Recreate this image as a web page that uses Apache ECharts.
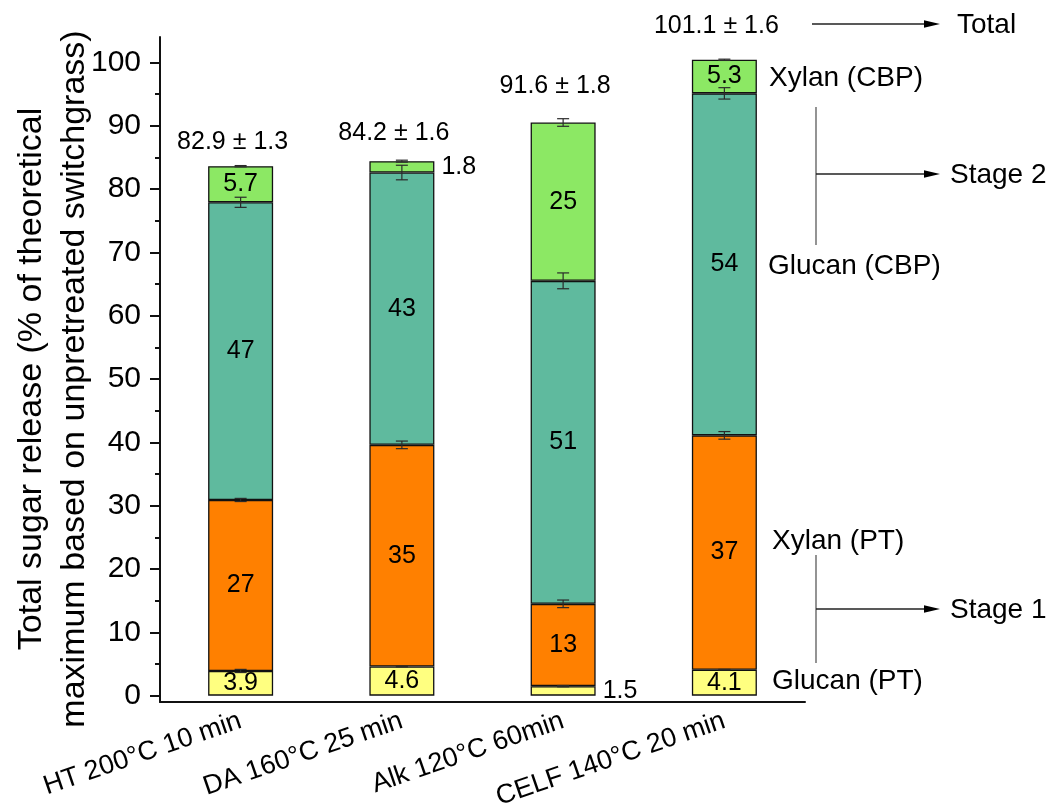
<!DOCTYPE html>
<html>
<head>
<meta charset="utf-8">
<script src="https://cdn.jsdelivr.net/npm/echarts@6/dist/echarts.min.js"></script>
<style>
  html, body { margin: 0; padding: 0; background: #fff; }
  #chart { width: 1051px; height: 803px; }
</style>
</head>
<body>
<div id="chart"></div>
<script>
// Sugar release per pretreatment, in % of theoretical maximum
const categories = ['HT 200°C 10 min', 'DA 160°C 25 min', 'Alk 120°C 60min', 'CELF 140°C 20 min'];
const glucanPT  = [3.9, 4.6, 1.5, 4.1];
const xylanPT   = [27, 35, 13, 37];
const glucanCBP = [47, 43, 51, 54];
const xylanCBP  = [5.7, 1.8, 25, 5.3];

// standard deviations drawn at the top of each segment
const errGlucanPT  = [0.25, 0.05, 0.1, 0.05];
const errXylanPT   = [0.25, 0.6, 0.6, 0.6];
const errGlucanCBP = [0.8, 1.15, 1.25, 0.9];
const errXylanCBP  = [0.1, 0.15, 0.6, 0.1];

// overall totals
const totalMean = [82.9, 84.2, 91.6, 101.1];
const totalSD   = [1.3, 1.6, 1.8, 1.6];

// axis ticks
const yTicks      = [0, 10, 20, 30, 40, 50, 60, 70, 80, 90, 100];
const yMinorTicks = [5, 15, 25, 35, 45, 55, 65, 75, 85, 95];

const FONT = '"Liberation Sans", Arial, Helvetica, sans-serif';
const COLORS = {
  glucanPT: '#FFFF80',
  xylanPT: '#FF8000',
  glucanCBP: '#5FBA9E',
  xylanCBP: '#8CE864'
};

// segments whose value label sits beside the bar instead of inside it
const besideLabel = { xylanCBP: [1], glucanPT: [2] };

const stackOrder = [
  { key: 'glucanPT', name: 'Glucan (PT)', values: glucanPT, err: errGlucanPT },
  { key: 'xylanPT', name: 'Xylan (PT)', values: xylanPT, err: errXylanPT },
  { key: 'glucanCBP', name: 'Glucan (CBP)', values: glucanCBP, err: errGlucanCBP },
  { key: 'xylanCBP', name: 'Xylan (CBP)', values: xylanCBP, err: errXylanCBP }
];

const barSeries = stackOrder.map(s => ({
  name: s.name,
  type: 'bar',
  stack: 'sugar',
  barWidth: 65,
  itemStyle: { color: COLORS[s.key], borderColor: '#111', borderWidth: 1.3 },
  label: {
    show: true,
    position: 'inside',
    color: '#000',
    fontFamily: FONT,
    fontSize: 25,
    formatter: p => String(p.value)
  },
  z: 2,
  data: s.values.map((v, i) => {
    const beside = (besideLabel[s.key] || []).includes(i);
    return beside
      ? { value: v, label: { position: 'right', distance: 7 } }
      : { value: v };
  })
}));

// error bars at the cumulative top of each segment
const errData = [];
categories.forEach((c, i) => {
  let cum = 0;
  stackOrder.forEach(s => {
    cum += s.values[i];
    errData.push([i, cum, cum - s.err[i], cum + s.err[i]]);
  });
});

const errorSeries = {
  type: 'custom',
  name: 'error',
  z: 5,
  silent: true,
  data: errData,
  encode: { x: 0, y: 1 },
  renderItem: (params, api) => {
    const x = api.value(0);
    const lo = api.coord([x, api.value(2)]);
    const hi = api.coord([x, api.value(3)]);
    const half = 6;
    const st = { stroke: '#2a2a2a', lineWidth: 1.2 };
    return {
      type: 'group',
      children: [
        { type: 'line', shape: { x1: lo[0], y1: lo[1], x2: hi[0], y2: hi[1] }, style: st },
        { type: 'line', shape: { x1: lo[0] - half, y1: lo[1], x2: lo[0] + half, y2: lo[1] }, style: st },
        { type: 'line', shape: { x1: hi[0] - half, y1: hi[1], x2: hi[0] + half, y2: hi[1] }, style: st }
      ]
    };
  }
};

// "mean ± sd" written above each stack
const totalSeries = {
  type: 'custom',
  name: 'Total',
  silent: true,
  z: 6,
  data: totalMean.map((v, i) => [i, v, totalSD[i]]),
  encode: { x: 0, y: 1 },
  renderItem: (params, api) => {
    const p = api.coord([api.value(0), api.value(1)]);
    return {
      type: 'text',
      x: p[0] - 8,
      y: p[1] - 29,
      style: {
        text: api.value(1).toFixed(1) + ' ± ' + api.value(2).toFixed(1),
        fill: '#000',
        font: '25px ' + FONT,
        align: 'center',
        verticalAlign: 'middle'
      }
    };
  }
};

// right-hand legend with arrows
function arrow(x1, y, x2) {
  return [
    { type: 'line', shape: { x1: x1, y1: y, x2: x2 - 12, y2: y }, style: { stroke: '#222', lineWidth: 1.4 } },
    { type: 'polygon', shape: { points: [[x2 - 16, y - 3.8], [x2, y], [x2 - 16, y + 3.8]] }, style: { fill: '#000' } }
  ];
}
function note(text, x, y) {
  return { type: 'text', x: x, y: y, style: { text: text, fill: '#000', font: '28px ' + FONT, align: 'left', verticalAlign: 'middle' } };
}
function bracket(x, y1, y2) {
  return { type: 'line', shape: { x1: x, y1: y1, x2: x, y2: y2 }, style: { stroke: '#666', lineWidth: 1.4 } };
}

const graphics = [
  {
    type: 'text',
    x: 53,
    y: 379,
    rotation: Math.PI / 2,
    style: {
      text: 'Total sugar release (% of theoretical\nmaximum based on unpretreated switchgrass)',
      fill: '#000',
      font: '34px ' + FONT,
      lineHeight: 43,
      align: 'center',
      verticalAlign: 'middle'
    }
  },
  ...arrow(812, 24, 940),
  note('Total', 957, 25),
  note('Xylan (CBP)', 769, 78),
  bracket(816, 107, 245),
  ...arrow(816, 174, 940),
  note('Stage 2', 950, 175),
  note('Glucan (CBP)', 768, 266),
  note('Xylan (PT)', 772, 541),
  bracket(816, 555, 663),
  ...arrow(816, 609, 940),
  note('Stage 1', 950, 610),
  note('Glucan (PT)', 772, 681)
];

const axisLineStyle = { color: '#111', width: 2 };

const option = {
  animation: false,
  backgroundColor: '#fff',
  textStyle: { fontFamily: FONT },
  grid: { left: 160, right: 246, top: 37, bottom: 101, containLabel: false, outerBoundsMode: 'none' },
  xAxis: {
    type: 'category',
    data: categories,
    axisLine: { onZero: false, lineStyle: axisLineStyle },
    axisTick: { alignWithLabel: true, length: 10, lineStyle: { color: '#111', width: 2 } },
    axisLabel: {
      rotate: 19,
      fontSize: 27,
      color: '#000',
      fontFamily: FONT,
      margin: 18,
      interval: 0
    },
    splitLine: { show: false }
  },
  yAxis: [
    {
      type: 'value',
      min: -1,
      max: 104,
      position: 'left',
      axisLine: { show: true, lineStyle: axisLineStyle },
      axisTick: { show: true, customValues: yTicks, length: 10, lineStyle: { color: '#111', width: 2 } },
      axisLabel: { customValues: yTicks, fontSize: 30, color: '#000', fontFamily: FONT, margin: 19 },
      splitLine: { show: false }
    },
    {
      type: 'value',
      min: -1,
      max: 104,
      position: 'left',
      axisLine: { show: false },
      axisTick: { show: true, customValues: yMinorTicks, length: 5, lineStyle: { color: '#111', width: 2 } },
      axisLabel: { show: false },
      splitLine: { show: false }
    }
  ],
  series: [...barSeries, errorSeries, totalSeries],
  graphic: graphics
};

const chart = echarts.init(document.getElementById('chart'), null, { renderer: 'canvas' });
chart.setOption(option);
</script>
</body>
</html>
